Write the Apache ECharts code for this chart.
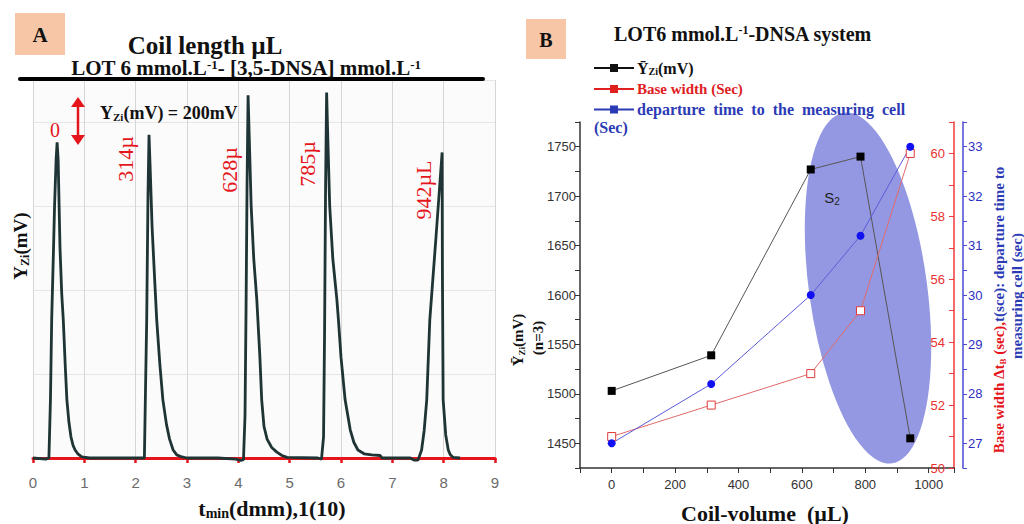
<!DOCTYPE html>
<html><head><meta charset="utf-8">
<script src="https://cdn.jsdelivr.net/npm/echarts@6/dist/echarts.min.js"></script>
<style>html,body{margin:0;padding:0;background:#fff}#c{width:1024px;height:524px}</style>
</head><body><div id="c"></div>
<script>
// ---------- Panel A: recorded signal (time in dmm units, signal in mV) ----------
const traceTime = [
  0.00, 0.25, 0.31, 0.34, 0.364, 0.40, 0.42, 0.45, 0.47, 0.49, 0.526, 0.56, 0.59, 0.63, 0.66, 0.70, 0.74, 0.78, 0.82, 0.88, 0.95, 1.10,
  1.50, 2.00, 2.17, 2.19, 2.215, 2.24, 2.26, 2.28, 2.32, 2.37, 2.41, 2.47, 2.53, 2.60, 2.66, 2.73, 2.80, 2.90, 3.00,
  3.60, 3.95, 4.05, 4.10, 4.13, 4.15, 4.17, 4.19, 4.21, 4.25, 4.30, 4.36, 4.42, 4.455, 4.50, 4.56, 4.65, 4.75, 4.85, 4.95,
  5.55, 5.62, 5.66, 5.68, 5.70, 5.72, 5.74, 5.78, 5.84, 5.92, 5.95, 6.00, 6.08, 6.18, 6.25, 6.33, 6.45, 6.60, 6.76, 6.80,
  7.35, 7.42, 7.50, 7.57, 7.62, 7.67, 7.73, 7.85, 7.97, 7.975, 7.99, 8.04, 8.09, 8.13, 8.18, 8.32
];
const traceSignal = [
  0, -5, 0, 277, 658, 1000, 1200, 1420, 1503, 1420, 1000, 780, 658, 430, 277, 170, 100, 60, 38, 18, 5, 0,
  0, 0, 0, 300, 658, 1250, 1539, 1400, 1100, 850, 658, 450, 277, 160, 90, 38, 15, 5, 0,
  0, -5, -12, -8, 200, 700, 1300, 1727, 1550, 1200, 950, 753, 480, 277, 150, 90, 50, 28, 12, 3,
  0, -5, 100, 600, 1300, 1740, 1550, 1200, 950, 753, 658, 480, 277, 134, 75, 38, 20, 15, 12, 0,
  0, -10, -10, 38, 130, 277, 658, 1050, 1455, 900, 277, 110, 38, 15, 3, 0
];
const peakLabels = ['0', '314\u00b5', '628\u00b5', '785\u00b5', '942\u00b5L'];

// ---------- Panel B: coil volume study ----------
const coilVolume = [0, 314, 628, 785, 942];
const meanSignal = [1503, 1539, 1727, 1740, 1455];      // Ȳzi (mV)
const baseWidth = [51, 52, 53, 55, 60];                 // Base width (sec)
const departureTime = [27, 28.2, 30, 31.2, 33];         // departure time (sec)
const seriesNames = ['\u0232zi(mV)', 'Base width (Sec)', 'departure time to the measuring cell (Sec)'];

const SERIF = "'Liberation Serif','Times New Roman',serif";
const SANS = "'Liberation Sans',Arial,sans-serif";
const RED = '#e5151c';
const BLUE = '#2b3bb5';

const zip = (a, b) => a.map((v, i) => [v, b[i]]);

function txt(x, y, text, o) {
  o = o || {};
  return {
    type: 'text', x: x, y: y, rotation: o.rot || 0, z: 20,
    style: {
      text: text, fill: o.fill || '#111', fontSize: o.size || 16, fontWeight: o.weight || 'bold',
      fontFamily: o.family || SERIF,
      align: o.align || 'center', textAlign: o.align || 'center',
      verticalAlign: 'middle', textVerticalAlign: 'middle',
      rich: o.rich
    }
  };
}
function subRich(size, color) {
  return {
    m: { fontSize: size, fontWeight: 'bold', fontFamily: SERIF, fill: color },
    s: { fontSize: Math.round(size * 0.62), fontWeight: 'bold', fontFamily: SERIF, fill: color, verticalAlign: 'bottom', padding: [Math.round(size * 0.45), 0, 0, 0] },
    u: { fontSize: Math.round(size * 0.62), fontWeight: 'bold', fontFamily: SERIF, fill: color, verticalAlign: 'top', padding: [0, 0, Math.round(size * 0.4), 0] },
    r: { fontSize: size, fontWeight: 'bold', fontFamily: SERIF, fill: RED },
    rs: { fontSize: Math.round(size * 0.62), fontWeight: 'bold', fontFamily: SERIF, fill: RED, verticalAlign: 'bottom', padding: [Math.round(size * 0.45), 0, 0, 0] },
    b: { fontSize: size, fontWeight: 'bold', fontFamily: SERIF, fill: BLUE }
  };
}

const chart = echarts.init(document.getElementById('c'), null, { renderer: 'svg' });

const legendIcon = 'path://M0,3L40,3L40,5L0,5Z M16,0L24,0L24,8L16,8Z';

const option = {
  animation: false,
  backgroundColor: '#fff',
  grid: [
    { left: 33, top: 80, width: 462, height: 378, show: true, backgroundColor: '#fbfbfb', borderWidth: 0 },
    { left: 580, top: 122, width: 374, height: 346, show: false }
  ],
  xAxis: [
    {
      type: 'value', gridIndex: 0, min: 0, max: 9, interval: 1,
      axisLine: { show: true, onZero: false, lineStyle: { color: RED, width: 3 } },
      axisTick: { show: true, length: 5, lineStyle: { color: RED, width: 2.5 } },
      axisLabel: { color: '#6b6b6b', fontSize: 15, fontFamily: SANS, margin: 17 },
      splitLine: { show: true, lineStyle: { color: '#d6d6d6', width: 1 } }
    },
    {
      type: 'value', gridIndex: 1, min: -100, max: 1080, interval: 100,
      axisLine: { show: true, onZero: false, lineStyle: { color: '#333', width: 1.5 } },
      axisTick: { show: true, length: 5, lineStyle: { color: '#333', width: 1 } },
      axisLabel: {
        color: '#333', fontSize: 13, fontFamily: SANS, margin: 10,
        formatter: v => (v >= 0 && v <= 1000 && v % 200 === 0) ? String(v) : ''
      },
      splitLine: { show: false }
    }
  ],
  yAxis: [
    {
      type: 'value', gridIndex: 0, min: 0, max: 1800, interval: 400,
      axisLine: { show: false }, axisTick: { show: false }, axisLabel: { show: false },
      splitLine: { show: true, lineStyle: { color: '#e6e6e6', width: 1 } }
    },
    {
      type: 'value', gridIndex: 1, position: 'left', min: 1425, max: 1775, interval: 25,
      axisLine: { show: true, onZero: false, lineStyle: { color: '#333', width: 1.5 } },
      axisTick: { show: true, length: 5, lineStyle: { color: '#333', width: 1 } },
      axisLabel: {
        color: '#333', fontSize: 13, fontFamily: SANS, margin: 4,
        formatter: v => (v % 50 === 0) ? String(v) : ''
      },
      splitLine: { show: false }
    },
    {
      type: 'value', gridIndex: 1, position: 'right', min: 50, max: 61, interval: 1,
      axisLine: { show: true, onZero: false, lineStyle: { color: '#f03c3c', width: 1.5 } },
      axisTick: { show: true, inside: true, length: 5, lineStyle: { color: '#f03c3c', width: 1 } },
      axisLabel: {
        inside: true, color: '#e83030', fontSize: 13, fontFamily: SANS, margin: 9,
        formatter: v => (v % 2 === 0) ? String(v) : ''
      },
      splitLine: { show: false }
    },
    {
      type: 'value', gridIndex: 1, position: 'right', offset: 9, min: 26.5, max: 33.5, interval: 0.5,
      axisLine: { show: true, onZero: false, lineStyle: { color: '#4b4bd0', width: 1.5 } },
      axisTick: { show: true, length: 4, lineStyle: { color: '#4b4bd0', width: 1 } },
      axisLabel: {
        color: '#2e2ec2', fontSize: 13, fontFamily: SANS, margin: 5,
        formatter: v => Number.isInteger(v) ? String(v) : ''
      },
      splitLine: { show: false }
    }
  ],
  legend: {
    left: 594, top: 60, padding: 0, orient: 'vertical', itemWidth: 40, itemHeight: 8, itemGap: 5,
    icon: legendIcon, selectedMode: false,
    data: [
      { name: seriesNames[0], icon: legendIcon, itemStyle: { color: '#111' } },
      { name: seriesNames[1], icon: legendIcon, itemStyle: { color: '#e0201f', borderColor: '#e0201f', borderWidth: 0 } },
      { name: seriesNames[2], icon: legendIcon, itemStyle: { color: BLUE } }
    ],
    formatter: function (name) {
      if (name === seriesNames[0]) return '{m|\u0232}{s|Zi}{m|(mV)}';
      if (name === seriesNames[1]) return '{r|Base width (Sec)}';
      return '{b|departure  time  to  the  measuring  cell}';
    },
    textStyle: {
      padding: [0, 0, 0, -2],
      rich: {
        m: { fontSize: 16, fontWeight: 'bold', fontFamily: SERIF, color: '#111' },
        s: { fontSize: 10, fontWeight: 'bold', fontFamily: SERIF, color: '#111', verticalAlign: 'bottom', padding: [7, 0, 0, 0] },
        r: { fontSize: 15, fontWeight: 'bold', fontFamily: SERIF, color: '#e0201f' },
        b: { fontSize: 16, fontWeight: 'bold', fontFamily: SERIF, color: BLUE }
      }
    }
  },
  series: [
    {
      name: 'signal', type: 'line', xAxisIndex: 0, yAxisIndex: 0,
      data: zip(traceTime, traceSignal), showSymbol: false, symbol: 'none', clip: false, z: 3,
      lineStyle: { color: '#1f3434', width: 2.8 }, silent: true
    },
    {
      name: seriesNames[0], type: 'line', xAxisIndex: 1, yAxisIndex: 1,
      data: zip(coilVolume, meanSignal), symbol: 'rect', symbolSize: 8, z: 5,
      itemStyle: { color: '#000' }, lineStyle: { color: '#555', width: 1 }
    },
    {
      name: seriesNames[1], type: 'line', xAxisIndex: 1, yAxisIndex: 2,
      data: zip(coilVolume, baseWidth), symbol: 'rect', symbolSize: 8, z: 5,
      itemStyle: { color: '#fff', borderColor: '#e23a3a', borderWidth: 1 }, lineStyle: { color: '#e06a6a', width: 1 }
    },
    {
      name: seriesNames[2], type: 'line', xAxisIndex: 1, yAxisIndex: 3,
      data: zip(coilVolume, departureTime), symbol: 'circle', symbolSize: 8, z: 5,
      itemStyle: { color: '#1010f0' }, lineStyle: { color: '#5c5cd8', width: 1 }
    }
  ],
  graphic: { elements: [
    // ellipse (S2 zone) behind the lines
    { type: 'circle', x: 868, y: 288, scaleY: 3.0, rotation: 0.136, z: 0, shape: { cx: 0, cy: 0, r: 59 }, style: { fill: '#9498e3' } },

    // ----- Panel A annotations -----
    { type: 'rect', z: 10, shape: { x: 15, y: 13, width: 50, height: 42 }, style: { fill: '#f6c6a6' } },
    txt(40, 35, 'A', { size: 21 }),
    txt(205, 45, 'Coil length \u00b5L', { size: 25 }),
    txt(246, 68, '{m|LOT 6 mmol.L}{u|-1}{m|- [3,5-DNSA] mmol.L}{u|-1}', { rich: subRich(21, '#111') }),
    { type: 'line', z: 10, shape: { x1: 20, y1: 79, x2: 483, y2: 79 }, style: { stroke: '#000', lineWidth: 4, lineCap: 'round' } },
    { type: 'line', z: 10, shape: { x1: 78, y1: 104, x2: 78, y2: 138 }, style: { stroke: RED, lineWidth: 2.5 } },
    { type: 'polygon', z: 10, shape: { points: [[71, 107], [85, 107], [78, 97]] }, style: { fill: RED } },
    { type: 'polygon', z: 10, shape: { points: [[71, 135], [85, 135], [78, 145]] }, style: { fill: RED } },
    txt(100, 113, '{m|Y}{s|Zi}{m|(mV) = 200mV}', { align: 'left', rich: subRich(18, '#111') }),
    txt(55, 130, peakLabels[0], { size: 20, weight: 'normal', fill: RED }),
    txt(125, 159, peakLabels[1], { size: 22, weight: 'normal', fill: RED, rot: Math.PI / 2 }),
    txt(229, 170, peakLabels[2], { size: 22, weight: 'normal', fill: RED, rot: Math.PI / 2 }),
    txt(307, 164, peakLabels[3], { size: 22, weight: 'normal', fill: RED, rot: Math.PI / 2 }),
    txt(423, 190, peakLabels[4], { size: 22, weight: 'normal', fill: RED, rot: Math.PI / 2 }),
    txt(20, 246, '{m|Y}{s|Zi}{m|(mV)}', { rot: Math.PI / 2, rich: subRich(19, '#111') }),
    txt(272, 508, '{m|t}{s|min}{m|(dmm),1(10)}', { rich: subRich(22, '#111') }),

    // ----- Panel B annotations -----
    { type: 'rect', z: 10, shape: { x: 526, y: 19, width: 40, height: 40 }, style: { fill: '#f6c6a6' } },
    txt(546, 40, 'B', { size: 20 }),
    txt(614, 34, '{m|LOT6 mmol.L}{u|-1}{m|-DNSA system}', { align: 'left', rich: subRich(20, '#111') }),
    txt(594, 127, '(Sec)', { align: 'left', size: 16, fill: BLUE }),
    txt(518, 340, '{m|\u0232}{s|Zi}{m|(mV)}', { rot: Math.PI / 2, rich: subRich(15, '#111') }),
    txt(538, 338, '(n=3)', { rot: Math.PI / 2, size: 15 }),
    txt(999, 310, '{r|Base width \u0394t}{rs|B}{r| (sec),}{b|t(sce): departure time to}', { rot: Math.PI / 2, rich: subRich(15, '#111') }),
    txt(1017, 296, '{b|measuring cell (sec)}', { rot: Math.PI / 2, rich: subRich(15, '#111') }),
    txt(832, 197, '{n|S}{k|2}', { rich: {
      n: { fontSize: 15, fontFamily: SANS, fill: '#222' },
      k: { fontSize: 10, fontFamily: SANS, fill: '#222', verticalAlign: 'bottom', padding: [8, 0, 0, 0] }
    } }),
    txt(765, 513, 'Coil-volume  (\u00b5L)', { size: 22 })
  ] }
};
chart.setOption(option);
</script>
</body></html>
